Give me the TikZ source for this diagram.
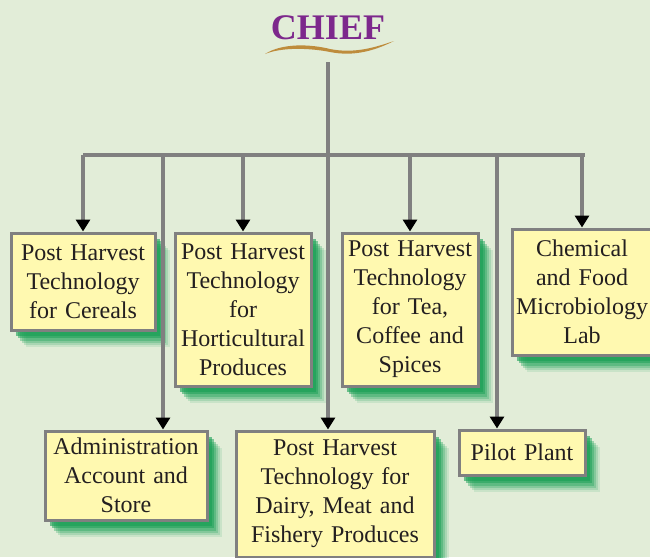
\documentclass[tikz,border=0pt]{standalone}
\usepackage{fontspec}
\setmainfont{Liberation Serif}
\usetikzlibrary{arrows.meta,shadows}

\definecolor{bggreen}{RGB}{226,237,216}
\definecolor{boxyellow}{RGB}{255,249,176}
\definecolor{boxgray}{RGB}{128,128,128}
\definecolor{shgreen}{RGB}{25,160,85}
\definecolor{chiefpurple}{RGB}{125,40,140}
\definecolor{swoosh}{RGB}{190,140,60}
\definecolor{txt}{RGB}{35,31,32}

\tikzset{
  unit box/.style={draw=boxgray, line width=3pt, fill=boxyellow, inner sep=0pt,
    align=center, text=txt, font=\fontsize{24}{29}\selectfont,
    drop shadow={shadow xshift=15pt, shadow yshift=-17pt, fill=shgreen, opacity=.12},
    drop shadow={shadow xshift=13pt, shadow yshift=-15pt, fill=shgreen, opacity=.18},
    drop shadow={shadow xshift=11pt, shadow yshift=-13pt, fill=shgreen, opacity=.25},
    drop shadow={shadow xshift=9pt, shadow yshift=-11pt, fill=shgreen, opacity=.35},
    drop shadow={shadow xshift=7pt, shadow yshift=-8pt, fill=shgreen, opacity=.5},
    drop shadow={shadow xshift=5pt, shadow yshift=-6pt, fill=shgreen, opacity=.6}},
  link/.style={draw=boxgray, line width=4pt},
  drop/.style={link, -{Triangle[color=black,width=14pt,length=12pt]}}
}

\begin{document}
\begin{tikzpicture}[x=1pt,y=-1pt]
    \useasboundingbox (0,0) rectangle (650,557) ;
    \fill[bggreen] (0,0) rectangle (650,557) ;
    % head
    \node[font=\fontsize{36}{40}\selectfont\bfseries, text=chiefpurple] (chief) at (328,28) {CHIEF} ;
    \fill[swoosh] (265,54) .. controls (282,43) and (310,44) .. (330,49) %
      .. controls (355,54) and (376,47) .. (394,41) .. controls (376,50) and (355,57) .. (330,52) %
      .. controls (310,48) and (282,47) .. (265,54) -- cycle ;
    % units
    \node[unit box, minimum width=144, minimum height=97, text width=138] (cereal) at (83,281.5)
      {Post Harvest\\Technology\\for Cereals} ;
    \node[unit box, minimum width=136, minimum height=153, text width=130] (horti) at (243,309.5)
      {Post Harvest\\Technology\\for\\Horticultural\\Produces} ;
    \node[unit box, minimum width=136, minimum height=153, text width=130] (tea) at (410,309.5)
      {Post Harvest\\Technology\\for Tea,\\Coffee and\\Spices} ;
    \node[unit box, minimum width=140, minimum height=126, text width=134] (chem) at (582,292)
      {Chemical\\and Food\\Microbiology\\Lab} ;
    \node[unit box, minimum width=162, minimum height=89, text width=156] (admin) at (126,475.5)
      {Administration\\Account and\\Store} ;
    \node[unit box, minimum width=198, minimum height=126, text width=192] (dairy) at (335,494)
      {Post Harvest\\Technology for\\Dairy, Meat and\\Fishery Produces} ;
    \node[unit box, minimum width=126, minimum height=45, text width=120] (pilot) at (522,452.5)
      {Pilot Plant} ;
    % connectors
    \coordinate (c0) at (328,62) ;
    \coordinate (hub) at (328,155) ;
    \coordinate (bl) at (83,155) ;
    \coordinate (br) at (585,155) ;
    \coordinate (xa) at (163,155) ;
    \coordinate (xp) at (497,155) ;
    \draw[link] (c0) -- (hub) ;
    \draw[link] (bl) -- (br) ;
    \draw[drop] (cereal.north |- hub) -- (cereal.north) ;
    \draw[drop] (horti.north |- hub) -- (horti.north) ;
    \draw[drop] (tea.north |- hub) -- (tea.north) ;
    \draw[drop] (chem.north |- hub) -- (chem.north) ;
    \draw[drop] (xa) -- (xa |- admin.north) ;
    \draw[drop] (hub) -- (hub |- dairy.north) ;
    \draw[drop] (xp) -- (xp |- pilot.north) ;
\end{tikzpicture}
\end{document}
